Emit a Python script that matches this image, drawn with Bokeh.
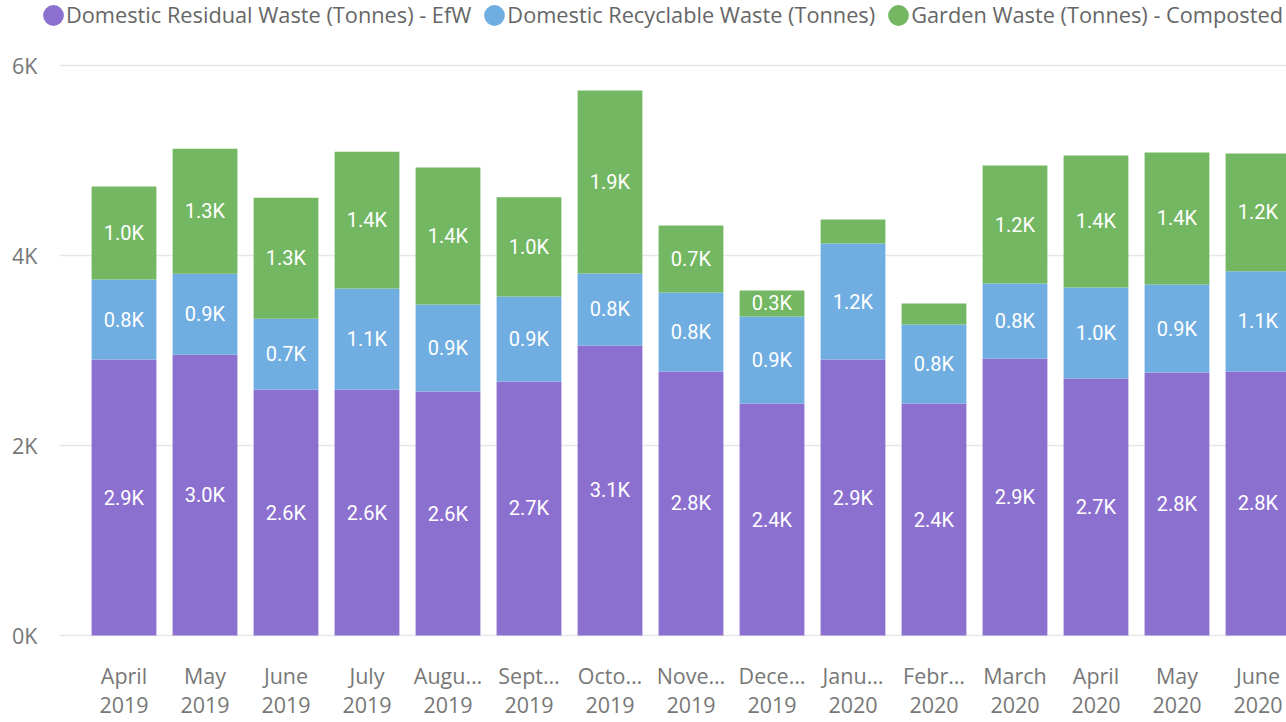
from bokeh.plotting import figure
from bokeh.models import ColumnDataSource, Range1d, FixedTicker, Legend, LegendItem, LinearAxis
from bokeh.core.properties import value
from bokeh.embed import file_html
from bokeh.resources import INLINE

# ---- data ----
month_labels = ["April", "May", "June", "July", "Augu…", "Sept…", "Octo…", "Nove…",
                "Dece…", "Janu…", "Febr…", "March", "April", "May", "June"]
year_labels = ["2019", "2019", "2019", "2019", "2019", "2019", "2019", "2019",
               "2019", "2020", "2020", "2020", "2020", "2020", "2020"]
series_names = ["Domestic Residual Waste (Tonnes) - EfW",
                "Domestic Recyclable Waste (Tonnes)",
                "Garden Waste (Tonnes) - Composted"]
residual = [2905, 2955, 2589, 2589, 2568, 2674, 3053, 2779, 2442, 2905, 2442, 2916, 2705, 2768, 2779]
recyclable = [842, 853, 745, 1063, 916, 895, 758, 832, 916, 1221, 832, 789, 958, 927, 1055]
garden = [979, 1316, 1274, 1440, 1442, 1045, 1926, 705, 274, 253, 221, 1242, 1390, 1389, 1240]
colors = ["#8C70D0", "#70AEE1", "#73B762"]
y_ticks = [0, 2000, 4000, 6000]
y_tick_labels = ["0K", "2K", "4K", "6K"]

AXIS_FONT = "Open Sans"
LABEL_FONT = "Roboto"

xs = list(range(len(month_labels)))
keys = ["residual", "recyclable", "garden"]
src = ColumnDataSource(dict(x=xs, residual=residual, recyclable=recyclable, garden=garden))

X_START, X_END = -1.0309, 14.352
GRID_START = -0.7963  # where the horizontal gridlines begin (left of the first bar)

p = figure(width=1286, height=722, output_backend="svg", toolbar_location=None, title=None,
           x_range=Range1d(X_START, X_END), y_range=Range1d(-10.5, 6684.2),
           min_border_left=40, min_border_right=0, min_border_top=0, min_border_bottom=86)
p.outline_line_color = None
p.background_fill_color = "white"
p.border_fill_color = "white"
p.xgrid.grid_line_color = None
p.ygrid.grid_line_color = None

# horizontal gridlines at the y ticks
p.segment(x0=GRID_START, x1=X_END, y0="y", y1="y",
          source=ColumnDataSource(dict(y=y_ticks)),
          line_color="#E6E6E6", line_width=1.5)

# legend proxies: sub-pixel ellipses, only their legend glyph is seen
items = []
for name, c, k in zip(series_names, colors, keys):
    r = p.ellipse(x="x", y=k, width=0.01, height=0.01, width_units="screen",
                  height_units="screen", source=src, fill_color=c, line_color=None)
    items.append(LegendItem(label=name, renderers=[r]))

p.vbar_stack(keys, x="x", width=0.8, fill_color=colors, line_color=None, source=src)

# data labels (centred in each segment, hidden when the segment is too thin)
lx, ly, lt = [], [], []
bottoms = [0] * len(xs)
for vals in (residual, recyclable, garden):
    for i, v in enumerate(vals):
        if v >= 260:
            lx.append(xs[i])
            ly.append(bottoms[i] + v / 2)
            lt.append(f"{v / 1000:.1f}K")
        bottoms[i] += v
p.text(x="x", y="y", text="t", source=ColumnDataSource(dict(x=lx, y=ly, t=lt)),
       text_font=value(LABEL_FONT), text_font_size=value("20px"), text_color="white",
       text_align="center", text_baseline="middle")

legend = Legend(items=items, location="top_left", orientation="horizontal",
                margin=0, padding=6, spacing=10, label_standoff=0,
                glyph_width=26, glyph_height=26,
                border_line_color=None, background_fill_alpha=0,
                label_text_font=AXIS_FONT, label_text_font_size="21.75px",
                label_text_color="#666666")
p.add_layout(legend, "center")

# axes
xa = p.xaxis[0]
xa.ticker = FixedTicker(ticks=xs)
xa.major_label_overrides = {x: m for x, m in zip(xs, month_labels)}
xa.major_label_standoff = 24
xa2 = LinearAxis(ticker=FixedTicker(ticks=xs),
                 major_label_overrides={x: y for x, y in zip(xs, year_labels)},
                 major_label_standoff=4)
p.add_layout(xa2, "below")
ya = p.yaxis[0]
ya.ticker = FixedTicker(ticks=y_ticks)
ya.major_label_overrides = {t: l for t, l in zip(y_ticks, y_tick_labels)}
ya.major_label_standoff = 3
for ax in (xa, xa2, ya):
    ax.axis_line_color = None
    ax.major_tick_line_color = None
    ax.minor_tick_line_color = None
    ax.major_tick_out = 0
    ax.major_tick_in = 0
    ax.major_label_text_font = AXIS_FONT
    ax.major_label_text_font_size = "21.5px"
    ax.major_label_text_color = "#777777"

open("out.html", "w").write(file_html(p, INLINE))
